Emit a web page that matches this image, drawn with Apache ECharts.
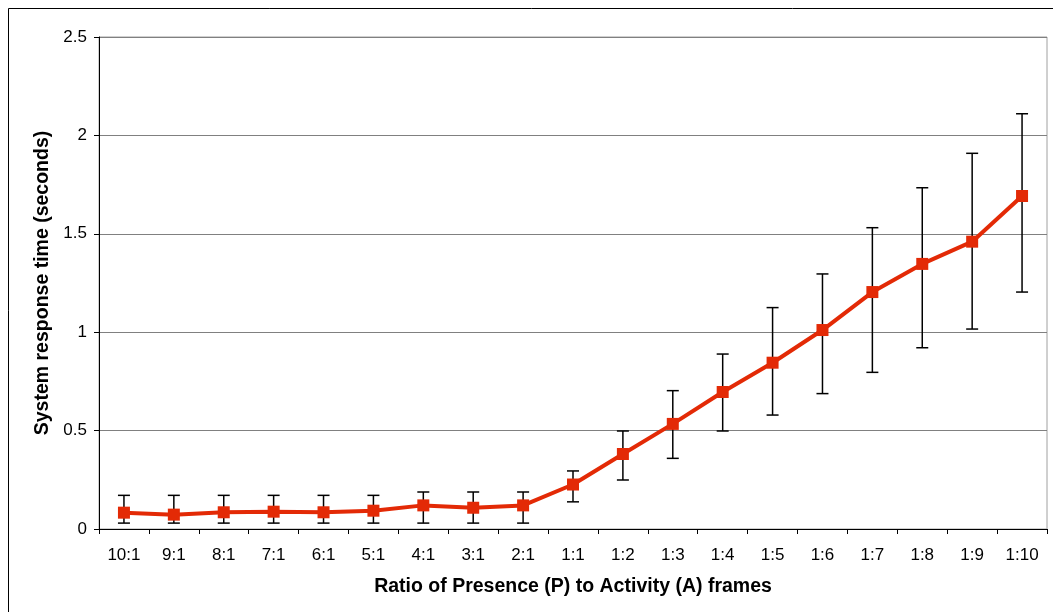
<!DOCTYPE html>
<html><head><meta charset="utf-8">
<script src="https://cdn.jsdelivr.net/npm/echarts@6/dist/echarts.min.js"></script>
<style>html,body{margin:0;padding:0;background:#fff}#c{width:1053px;height:612px}</style>
</head><body><div id="c"></div>
<script>
const categories = ["10:1","9:1","8:1","7:1","6:1","5:1","4:1","3:1","2:1","1:1","1:2","1:3","1:4","1:5","1:6","1:7","1:8","1:9","1:10"];
const meanValues = [0.083,0.073,0.085,0.088,0.085,0.093,0.12,0.108,0.12,0.226,0.381,0.534,0.696,0.845,1.011,1.204,1.347,1.46,1.692];
const errLow =  [0.03,0.03,0.03,0.03,0.03,0.03,0.03,0.03,0.03,0.138,0.249,0.359,0.498,0.579,0.688,0.796,0.921,1.016,1.204];
const errHigh = [0.171,0.171,0.171,0.171,0.171,0.171,0.188,0.188,0.188,0.295,0.498,0.703,0.889,1.125,1.296,1.531,1.734,1.909,2.11];
const yTicks = [0, 0.5, 1, 1.5, 2, 2.5];

const errData = categories.map((c, i) => [i, errLow[i], errHigh[i]]);
const FONT = '"Liberation Sans", Arial, sans-serif';

const chart = echarts.init(document.getElementById('c'), null, {renderer: 'canvas'});
chart.setOption({
  animation: false,
  backgroundColor: '#fff',
  graphic: [{
    type: 'rect', z: -10, silent: true,
    shape: {x: 8.5, y: 8.5, width: 1200, height: 800},
    style: {fill: 'none', stroke: '#000', lineWidth: 1}
  }],
  grid: {left: 99, top: 37, right: 6, bottom: 83, show: true, borderColor: '#a0a0a0', borderWidth: 1, backgroundColor: 'transparent'},
  xAxis: {
    type: 'category', data: categories, boundaryGap: true,
    name: 'Ratio of Presence (P) to Activity (A) frames', nameLocation: 'middle', nameGap: 48,
    nameTextStyle: {fontFamily: FONT, fontWeight: 'bold', fontSize: 19.5, color: '#000'},
    axisLine: {lineStyle: {color: '#000', width: 1}},
    axisTick: {show: true, inside: false, length: 5, alignWithLabel: false, lineStyle: {color: '#000'}},
    axisLabel: {fontFamily: FONT, fontSize: 17, color: '#000', margin: 18, interval: 0},
    splitLine: {show: false}
  },
  yAxis: {
    type: 'value', min: 0, max: yTicks[yTicks.length - 1], interval: 0.5,
    name: 'System response time (seconds)', nameLocation: 'middle', nameGap: 38, nameRotate: 90,
    nameTextStyle: {fontFamily: FONT, fontWeight: 'bold', fontSize: 19.5, color: '#000'},
    axisLine: {show: true, lineStyle: {color: '#000', width: 1}},
    axisTick: {show: true, length: 5, lineStyle: {color: '#000'}},
    axisLabel: {fontFamily: FONT, fontSize: 17, color: '#000', margin: 12,
      formatter: v => String(v)},
    splitLine: {show: true, lineStyle: {color: '#808080', width: 1}}
  },
  series: [
    {
      type: 'custom', name: 'err', data: errData, z: 3,
      renderItem: function (params, api) {
        const x = api.value(0);
        const lo = api.coord([x, api.value(1)]);
        const hi = api.coord([x, api.value(2)]);
        const hw = 6;
        const st = {stroke: '#000', lineWidth: 1.5};
        return {type: 'group', children: [
          {type: 'line', shape: {x1: lo[0], y1: lo[1], x2: hi[0], y2: hi[1]}, style: st},
          {type: 'line', shape: {x1: lo[0]-hw, y1: lo[1], x2: lo[0]+hw, y2: lo[1]}, style: st},
          {type: 'line', shape: {x1: hi[0]-hw, y1: hi[1], x2: hi[0]+hw, y2: hi[1]}, style: st}
        ]};
      }
    },
    {
      type: 'line', name: 'mean', data: meanValues, z: 5,
      symbol: 'rect', symbolSize: 12, showAllSymbol: true,
      lineStyle: {color: '#e32a06', width: 4},
      itemStyle: {color: '#e32a06', borderWidth: 0}
    }
  ]
});
</script></body></html>
